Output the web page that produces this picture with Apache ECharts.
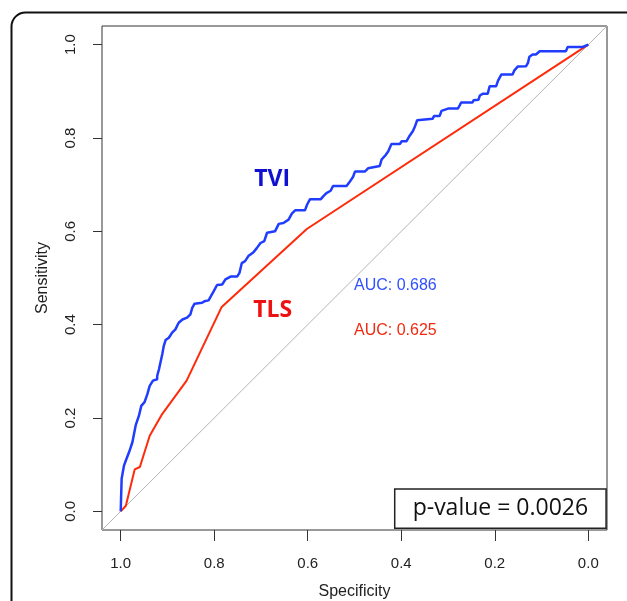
<!DOCTYPE html>
<html>
<head>
<meta charset="utf-8">
<script src="https://cdn.jsdelivr.net/npm/echarts@6/dist/echarts.min.js"></script>
<style>
html, body { margin: 0; padding: 0; background: #fff; }
#main { width: 627px; height: 601px; }
</style>
</head>
<body>
<div id="main"></div>
<script>
// axis ticks (both axes 0..1)
var tickValues = [0, 0.2, 0.4, 0.6, 0.8, 1.0];

// TVI roc curve, [specificity, sensitivity]
var tviCurve = [
  [1.000, 0.000], [0.998, 0.070], [0.993, 0.098], [0.989, 0.109], [0.982, 0.127],
  [0.975, 0.148], [0.968, 0.184], [0.961, 0.205], [0.956, 0.226], [0.949, 0.234],
  [0.943, 0.251], [0.938, 0.269], [0.931, 0.280], [0.922, 0.283], [0.922, 0.290],
  [0.918, 0.305], [0.915, 0.319], [0.911, 0.337], [0.908, 0.354], [0.904, 0.367],
  [0.897, 0.372], [0.890, 0.383], [0.883, 0.390], [0.876, 0.404], [0.868, 0.411],
  [0.858, 0.415], [0.851, 0.422], [0.847, 0.436], [0.842, 0.445], [0.826, 0.447],
  [0.821, 0.450], [0.812, 0.452], [0.807, 0.461], [0.801, 0.472], [0.794, 0.485],
  [0.783, 0.486], [0.776, 0.497], [0.765, 0.503], [0.751, 0.503], [0.746, 0.511],
  [0.741, 0.532], [0.734, 0.536], [0.727, 0.547], [0.716, 0.555], [0.709, 0.564],
  [0.701, 0.575], [0.693, 0.579], [0.687, 0.597], [0.670, 0.600], [0.662, 0.616],
  [0.652, 0.618], [0.641, 0.625], [0.634, 0.638], [0.627, 0.645], [0.606, 0.645],
  [0.601, 0.658], [0.595, 0.669], [0.572, 0.669], [0.567, 0.675], [0.560, 0.682],
  [0.551, 0.687], [0.546, 0.697], [0.517, 0.697], [0.511, 0.705], [0.503, 0.717],
  [0.499, 0.728], [0.478, 0.728], [0.471, 0.735], [0.467, 0.739], [0.446, 0.740],
  [0.442, 0.754], [0.433, 0.764], [0.428, 0.771], [0.421, 0.787], [0.403, 0.787],
  [0.399, 0.793], [0.389, 0.793], [0.382, 0.805], [0.375, 0.815], [0.371, 0.824],
  [0.366, 0.838], [0.364, 0.841], [0.333, 0.841], [0.330, 0.847], [0.318, 0.847],
  [0.314, 0.858], [0.300, 0.863], [0.279, 0.863], [0.275, 0.870], [0.272, 0.876],
  [0.248, 0.876], [0.245, 0.881], [0.235, 0.882], [0.232, 0.891], [0.225, 0.895],
  [0.215, 0.895], [0.211, 0.911], [0.197, 0.911], [0.193, 0.923], [0.186, 0.936],
  [0.162, 0.936], [0.158, 0.945], [0.151, 0.953], [0.133, 0.954], [0.129, 0.961],
  [0.126, 0.974], [0.119, 0.979], [0.112, 0.979], [0.104, 0.986], [0.048, 0.986],
  [0.044, 0.995], [0.012, 0.995], [0.009, 0.998], [0.000, 1.000]
];

// TLS roc curve, [specificity, sensitivity]
var tlsCurve = [
  [1.000, 0.000], [0.989, 0.012], [0.970, 0.090], [0.959, 0.095], [0.938, 0.162],
  [0.911, 0.209], [0.859, 0.280], [0.784, 0.438], [0.602, 0.605], [0.000, 1.000]
];

// chance diagonal, corner to corner of the box
var chanceLine = [[1.04, -0.04], [-0.04, 1.04]];

// annotations: [text, specificity, sensitivity]
var curveNames = [['TVI', 0.676, 0.712], ['TLS', 0.675, 0.430]];
var aucLabels = [['AUC: 0.686', 0.501, 0.484], ['AUC: 0.625', 0.501, 0.388]];
var pValueText = 'p-value = 0.0026';

var blue = '#1f3cff';
var red = '#ff2a0a';
var font = '"Liberation Sans", Arial, sans-serif';

var chart = echarts.init(document.getElementById('main'));

var option = {
  animation: false,
  backgroundColor: '#fff',
  grid: {
    left: 102, top: 26, width: 505, height: 504,
    outerBoundsMode: 'none', containLabel: false,
    show: true, borderColor: '#333', borderWidth: 1, backgroundColor: 'transparent'
  },
  xAxis: {
    type: 'value', inverse: true, min: -0.04, max: 1.04,
    name: 'Specificity', nameLocation: 'middle', nameGap: 54,
    nameTextStyle: { fontFamily: font, fontSize: 16, color: '#222' },
    axisLine: { show: false, onZero: false },
    splitLine: { show: false },
    axisTick: { show: true, length: 11, customValues: tickValues, lineStyle: { color: '#333' } },
    axisLabel: {
      customValues: tickValues, margin: 26, fontFamily: font, fontSize: 15, color: '#222',
      formatter: function (v) { return v.toFixed(1); }
    }
  },
  yAxis: {
    type: 'value', min: -0.04, max: 1.04,
    name: 'Sensitivity', nameLocation: 'middle', nameGap: 51, nameRotate: 90,
    nameTextStyle: { fontFamily: font, fontSize: 16, color: '#222' },
    axisLine: { show: false, onZero: false },
    splitLine: { show: false },
    axisTick: { show: true, length: 9, customValues: tickValues, lineStyle: { color: '#333' } },
    axisLabel: {
      customValues: tickValues, rotate: 90, margin: 24, fontFamily: font, fontSize: 15, color: '#222',
      formatter: function (v) { return v.toFixed(1); }
    }
  },
  series: [
    {
      name: 'chance', type: 'line', data: chanceLine, showSymbol: false, silent: true,
      lineStyle: { color: '#b4b4b4', width: 1 }, z: 1
    },
    {
      name: 'TLS', type: 'line', data: tlsCurve, showSymbol: false,
      lineStyle: { color: red, width: 2 }, z: 2
    },
    {
      name: 'TVI', type: 'line', data: tviCurve, showSymbol: false,
      lineStyle: { color: blue, width: 2.5 }, z: 3
    }
  ]
};
chart.setOption(option);

function px(p) {
  return chart.convertToPixel({ xAxisIndex: 0, yAxisIndex: 0 }, p);
}

var graphics = [];
// outer rounded frame
graphics.push({
  type: 'rect', left: 9, top: 10, z: 0,
  shape: { width: 700, height: 700, r: 14 },
  style: { fill: null, stroke: '#111', lineWidth: 2 }
});
curveNames.forEach(function (d, i) {
  var p = px([d[1], d[2]]);
  graphics.push({
    type: 'text', x: p[0], y: p[1], z: 10,
    style: {
      text: d[0], fill: i === 0 ? '#1010d0' : '#ee1111',
      font: 'bold 23px "Open Sans", "Liberation Sans", sans-serif',
      textAlign: 'center', textVerticalAlign: 'middle'
    }
  });
});
aucLabels.forEach(function (d, i) {
  var p = px([d[1], d[2]]);
  graphics.push({
    type: 'text', x: p[0], y: p[1], z: 10,
    style: {
      text: d[0], fill: i === 0 ? '#3050ff' : '#f02a10',
      font: '16px ' + font, textAlign: 'left', textVerticalAlign: 'middle'
    }
  });
});
// p-value box in the lower right corner
var boxTL = px([0.414, 0.048]);
var boxBR = px([-0.038, -0.036]);
graphics.push({
  type: 'rect', z: 10,
  shape: { x: boxTL[0], y: boxTL[1], width: boxBR[0] - boxTL[0], height: boxBR[1] - boxTL[1] },
  style: { fill: '#fff', stroke: '#222', lineWidth: 1.5 }
});
graphics.push({
  type: 'text', z: 11,
  x: (boxTL[0] + boxBR[0]) / 2, y: (boxTL[1] + boxBR[1]) / 2,
  style: {
    text: pValueText, fill: '#111', font: '23px "Open Sans", "Noto Sans", sans-serif',
    textAlign: 'center', textVerticalAlign: 'middle'
  }
});
chart.setOption({ graphic: graphics });
</script>
</body>
</html>
